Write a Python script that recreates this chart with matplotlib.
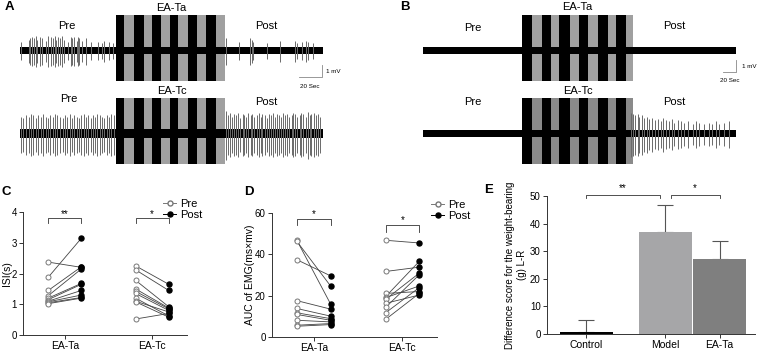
import numpy as np
import matplotlib
matplotlib.use("Agg")
import matplotlib.pyplot as plt
from matplotlib.lines import Line2D

plt.rcParams['font.family'] = ['Liberation Sans', 'DejaVu Sans']

W, H = 758, 353

# ---------------- trace data (time in s, amplitude in mV) ----------------
# panel A (0..260 s), panel B (0..480 s)
A_T, A_pre_end, A_post_start = 260, 82, 176
B_T, B_pre_end, B_post_start = 480, 152, 322

A_bands = [(82, 89), (98, 106), (113, 121), (129, 136), (144, 152), (160, 168)]
B_bands = [(152, 167), (182, 196), (209, 225), (239, 253), (268, 283), (296, 311)]

a_top_pre_t = [1, 8, 9, 10, 12, 14, 15, 17, 19, 22, 24, 27, 28, 30, 31, 33, 34,
               36, 38, 41, 44, 45, 46, 49, 50, 51, 53, 57, 61, 67, 70, 72, 76, 80]
a_top_pre_a = [0.7, 0.9, 1.0, 1.1, 1.0, 1.2, 0.9, 1.1, 1.0, 0.8, 1.2, 1.1, 1.0, 1.2, 0.9, 1.1, 1.0,
               1.2, 0.9, 0.7, 1.1, 1.0, 1.1, 0.8, 1.1, 1.0, 0.8, 1.0, 0.7, 0.7, 0.6, 0.8, 0.7, 0.6]
a_top_post_t = [177, 188, 197, 199, 200, 212, 223, 236, 238, 242, 245, 247, 251]
a_top_post_a = [1.0, 0.7, 1.0, 0.9, 0.7, 0.6, 0.8, 0.8, 0.6, 0.7, 0.8, 0.7, 0.6]

a_bot_pre_t = [1, 3, 5.5, 7.5, 9.5, 11.5, 13.5, 15.5, 18, 20, 22, 24, 26, 28, 30, 32, 34,
               36.5, 38.5, 40.5, 42.5, 44.5, 46.5, 48.5, 50.5, 52.5, 54.5, 56.5, 58.5, 60.5,
               62.5, 64.5, 66.5, 68.5, 70.5, 72.5, 74.5, 76.5, 78.5, 80.5]
a_bot_pre_a = [1.4, 1.3, 1.5, 1.4, 1.6, 1.5, 1.3, 1.5, 1.4, 1.6, 1.4, 1.3, 1.5, 1.4, 1.6, 1.5, 1.4,
               1.3, 1.5, 1.4, 1.6, 1.3, 1.5, 1.4, 1.3, 1.5, 1.6, 1.4, 1.5, 1.3,
               1.5, 1.4, 1.6, 1.5, 1.4, 1.3, 1.5, 1.4, 1.6, 1.5]
a_bot_post_t = [177, 178.5, 180, 182, 184, 185.5, 187, 189, 191, 192.5, 194, 196, 198, 199.5,
                201, 203, 205, 206.5, 208, 210, 212, 213.5, 215, 217, 219, 220.5, 222, 224,
                226, 227.5, 229, 231, 233, 234.5, 236, 238, 240, 241.5, 243, 245, 247, 248.5,
                250, 252, 254, 255.5, 257]
a_bot_post_a = [1.9, 1.5, 1.7, 1.4, 1.6, 1.5, 1.7, 1.3, 1.6, 1.5, 1.4, 1.7, 1.5, 1.6,
                1.4, 1.5, 1.7, 1.4, 1.6, 1.5, 1.3, 1.6, 1.5, 1.7, 1.4, 1.6, 1.5, 1.4,
                1.7, 1.5, 1.6, 1.4, 1.5, 1.7, 1.6, 1.4, 1.5, 1.7, 1.6, 1.4, 1.8, 1.5,
                1.6, 1.7, 1.5, 1.6, 1.4]

b_bot_post_t = [319, 322, 325, 330, 331, 336, 339, 344, 347, 351, 356, 360, 365, 368, 373, 377,
                382, 385, 391, 396, 400, 407, 414, 419, 423, 431, 439, 443, 450, 454, 462, 470]
b_bot_post_a = [1.7, 1.6, 1.5, 1.6, 1.4, 1.5, 1.3, 1.4, 1.2, 1.3, 1.1, 1.2, 1.0, 1.3, 1.1, 1.0,
                1.2, 0.9, 1.1, 1.0, 0.9, 1.0, 0.8, 1.0, 0.9, 0.8, 0.9, 0.8, 1.0, 0.8, 0.9, 1.0]

# ---------------- panel C / D / E data ----------------
isi_ta_pre = [2.37, 1.88, 1.45, 1.28, 1.20, 1.15, 1.10, 1.08, 1.05, 1.02]
isi_ta_post = [2.20, 3.15, 2.22, 2.15, 1.68, 1.65, 1.45, 1.30, 1.22, 1.20]
isi_tc_pre = [2.25, 2.12, 1.78, 1.50, 1.42, 1.35, 1.20, 1.10, 1.08, 0.52]
isi_tc_post = [1.65, 1.45, 0.92, 0.88, 0.85, 0.80, 0.62, 0.75, 0.58, 0.70]

auc_ta_pre = [46.8, 46.3, 37.4, 17.6, 13.8, 11.7, 10.9, 8.1, 5.7, 5.2]
auc_ta_post = [16.0, 24.7, 29.6, 13.5, 10.1, 8.9, 8.1, 7.3, 6.5, 6.0]
auc_tc_pre = [46.8, 31.7, 21.1, 19.5, 19.0, 18.2, 16.3, 14.3, 11.7, 8.5]
auc_tc_post = [45.5, 33.8, 22.0, 36.6, 24.7, 30.9, 20.3, 30.1, 23.9, 21.1]

groups_cd = ["EA-Ta", "EA-Tc"]
groups_e = ["Control", "Model", "EA-Ta"]
means_e = [0.7, 37.0, 27.2]
sem_e = [4.5, 9.7, 6.4]
colors_e = ["#000000", "#a6a6a8", "#7f7f7f"]

fig = plt.figure(figsize=(W / 100, H / 100), dpi=100)


def px_axes(left, top, right, bottom):
    return fig.add_axes([left / W, 1 - bottom / H, (right - left) / W, (bottom - top) / H])


def draw_trace(ax, T, pre_end, post_start, bands, spikes, noise, gray="#a0a0a0"):
    ax.set_xlim(0, T)
    ax.set_ylim(-3.0, 3.1)
    ax.axis('off')
    ax.fill_between([pre_end, post_start], -2.5, 2.95, color=gray, lw=0)
    for s, e in bands:
        ax.fill_between([s, e], -2.5, 2.95, color='black', lw=0)
    for t, a in spikes:
        a = np.asarray(a)
        ax.vlines(t, -a * 1.15, a, color='#6a6a6a', lw=0.7)
    ax.fill_between([0, T], -noise, noise, color='black', lw=0)


def label_trace(ax, pre_x, mid_x, post_x, mid_txt, y_pre, y_mid, y_post):
    kw = dict(ha='center', va='center', fontsize=8, clip_on=False)
    ax.text(pre_x, y_pre, "Pre", **kw)
    ax.text(mid_x, y_mid, mid_txt, **kw)
    ax.text(post_x, y_post, "Post", **kw)


# Panel A
axA1 = px_axes(20, 13, 323, 87)
draw_trace(axA1, A_T, A_pre_end, A_post_start, A_bands,
           [(a_top_pre_t, a_top_pre_a), (a_top_post_t, a_top_post_a)], 0.3)
label_trace(axA1, 40, 130, 211, "EA-Ta", 2.0, 3.5, 2.0)
axA2 = px_axes(20, 96, 323, 170)
draw_trace(axA2, A_T, A_pre_end, A_post_start, A_bands,
           [(a_bot_pre_t, a_bot_pre_a), (a_bot_post_t, a_bot_post_a)], 0.35)
label_trace(axA2, 42, 130, 211, "EA-Tc", 2.85, 3.5, 2.6)
# scale bar A
axA1.plot([239, 259, 259], [-2.2, -2.2, -1.2], color='#888888', lw=0.6, clip_on=False)
axA1.text(263, -1.7, "1 mV", fontsize=4.5, va='center', clip_on=False)
axA1.text(249, -2.95, "20 Sec", fontsize=4.5, ha='center', va='center', clip_on=False)

# Panel B
axB1 = px_axes(423, 13, 736, 87)
draw_trace(axB1, B_T, B_pre_end, B_post_start, B_bands, [], 0.28)
label_trace(axB1, 77, 237, 385, "EA-Ta", 1.9, 3.6, 2.0)
axB2 = px_axes(423, 96, 736, 170)
draw_trace(axB2, B_T, B_pre_end, B_post_start, B_bands,
           [(b_bot_post_t, b_bot_post_a)], 0.27, gray="#8a8a8a")
label_trace(axB2, 77, 237, 385, "EA-Tc", 2.6, 3.5, 2.6)
axB1.plot([460, 480, 480], [-1.8, -1.8, -0.8], color='#888888', lw=0.6, clip_on=False)
axB1.text(489, -1.3, "1 mV", fontsize=4.5, va='center', clip_on=False)
axB1.text(470, -2.45, "20 Sec", fontsize=4.5, ha='center', va='center', clip_on=False)

for txt, x, y in [("A", 9, 7), ("B", 405, 7), ("C", 6, 192), ("D", 249, 192), ("E", 489, 190)]:
    fig.text(x / W, 1 - y / H, txt, fontsize=9.5, fontweight='bold', va='center', ha='center')


def style_axes(ax):
    for s in ('top', 'right'):
        ax.spines[s].set_visible(False)
    for s in ('left', 'bottom'):
        ax.spines[s].set_linewidth(0.7)
        ax.spines[s].set_color('#333333')
    ax.tick_params(length=3, width=0.7, labelsize=7, pad=1.5, colors='#333333', labelcolor='black')


def paired(ax, pre_list, post_list, off=0.19):
    for i, (pre, post) in enumerate(zip(pre_list, post_list)):
        xp, xq = i - off, i + off
        for a, b in zip(pre, post):
            ax.plot([xp, xq], [a, b], color='#444444', lw=0.6, zorder=2)
        ax.plot(np.full(len(pre), xp), pre, 'o', ms=3.6, mfc='white', mec='#777777', mew=0.7, zorder=3)
        ax.plot(np.full(len(post), xq), post, 'o', ms=3.6, mfc='black', mec='black', zorder=3)
    ax.set_xticks(range(len(groups_cd)))
    ax.set_xticklabels(groups_cd, fontsize=7.5)


def bracket(ax, x0, x1, y, drop, txt, dy):
    ax.plot([x0, x0, x1, x1], [y - drop, y, y, y - drop], color='#333333', lw=0.6, clip_on=False)
    ax.text((x0 + x1) / 2, y + dy, txt, ha='center', va='bottom', fontsize=7, clip_on=False)


def legend_cd(ax, x, y):
    h = [Line2D([], [], color='#777777', lw=0.7, marker='o', ms=3.6, mfc='white', mec='#777777'),
         Line2D([], [], color='black', lw=0.7, marker='o', ms=3.6, mfc='black')]
    ax.legend(h, ["Pre", "Post"], loc='center left', bbox_to_anchor=(x, y), frameon=False,
              fontsize=8, handlelength=1.2, handletextpad=0.3, labelspacing=0.05, borderpad=0)


# Panel C
axC = px_axes(23, 212, 187, 335)
style_axes(axC)
paired(axC, [isi_ta_pre, isi_tc_pre], [isi_ta_post, isi_tc_post])
axC.set_xlim(-0.48, 1.4)
axC.set_ylim(0, 4)
axC.set_yticks([0, 1, 2, 3, 4])
axC.set_ylabel("ISI(s)", fontsize=7.5)
axC.yaxis.set_label_coords(-0.065, 0.5)
bracket(axC, -0.19, 0.19, 3.8, 0.15, "**", -0.02)
bracket(axC, 0.81, 1.19, 3.8, 0.15, "*", -0.02)
legend_cd(axC, 0.82, 1.02)

# Panel D
axD = px_axes(272, 213, 437, 337)
style_axes(axD)
paired(axD, [auc_ta_pre, auc_tc_pre], [auc_ta_post, auc_tc_post])
axD.set_xlim(-0.47, 1.39)
axD.set_ylim(0, 60)
axD.set_yticks([0, 20, 40, 60])
axD.set_ylabel("AUC of EMG(ms×mv)", fontsize=7.5)
axD.yaxis.set_label_coords(-0.105, 0.5)
bracket(axD, -0.19, 0.19, 57, 3, "*", 0)
bracket(axD, 0.81, 1.19, 54, 3, "*", 0)
legend_cd(axD, 0.93, 1.02)

# Panel E
axE = px_axes(547, 196, 755, 334)
style_axes(axE)
bar_x = np.array([0, 1.45, 2.45])
axE.bar(bar_x, means_e, width=0.97, color=colors_e, zorder=2)
for x, m, s in zip(bar_x, means_e, sem_e):
    axE.errorbar(x, m, yerr=[[0], [s]], color='#555555', lw=0.8, capsize=6, capthick=0.8, zorder=1)
axE.set_xlim(-0.72, 3.1)
axE.set_ylim(0, 50)
axE.set_yticks([0, 10, 20, 30, 40, 50])
axE.set_xticks(bar_x)
axE.set_xticklabels(groups_e, fontsize=7.5)
axE.set_ylabel("Difference score for the weight-bearing\n(g) L-R", fontsize=7, labelpad=2, linespacing=1.3)
bracket(axE, 0, 1.35, 50.4, 1.2, "**", 0.5)
bracket(axE, 1.55, 2.45, 50.4, 1.2, "*", 0.5)

fig.savefig("out.png", dpi=100)
